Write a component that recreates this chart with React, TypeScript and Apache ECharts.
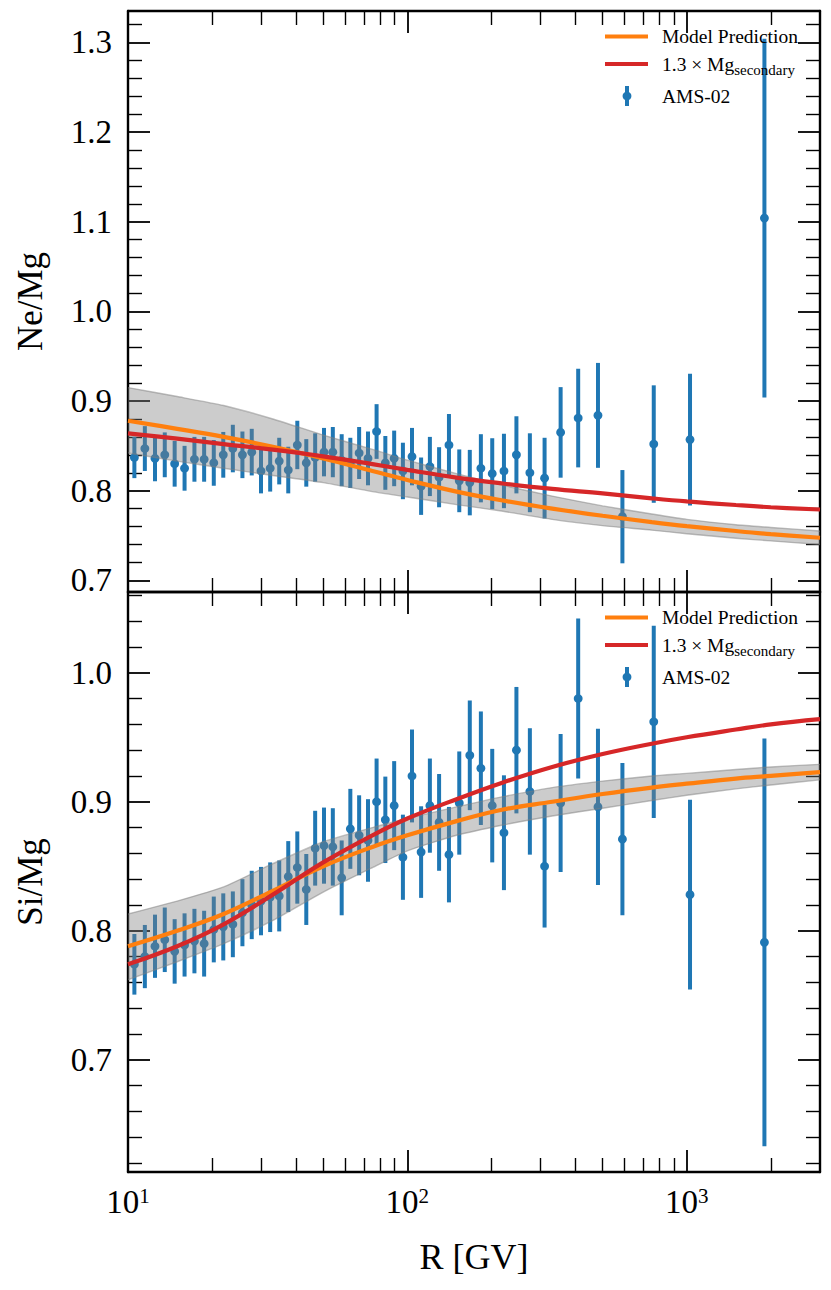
import React, { useEffect, useRef } from 'react';
import * as echarts from 'echarts';

const FONT = 'Liberation Serif';
const BLUE = '#1f77b4';
const ORANGE = '#ff7f0e';
const RED = '#d62728';

// AMS-02 rigidity bins (GV)
const rigidity = [10.54, 11.49, 12.49, 13.54, 14.69, 15.94, 17.29, 18.73, 20.28, 21.93, 23.73, 25.68, 27.73, 29.93, 32.28, 34.78, 37.47, 40.37, 43.47, 46.77, 50.3, 54.1, 58.2, 62.5, 67.2, 72.3, 77.6, 83.4, 89.7, 96.4, 103.9, 112.0, 120.4, 129.9, 140.9, 153.4, 167.3, 183.3, 201.3, 221.7, 245.7, 274.5, 309.9, 353.7, 408.8, 481.2, 588.6, 762.1, 1027.6, 1897.4];

const neMg = [0.837, 0.847, 0.836, 0.840, 0.830, 0.825, 0.835, 0.835, 0.831, 0.840, 0.847, 0.840, 0.843, 0.822, 0.825, 0.833, 0.823, 0.851, 0.831, 0.837, 0.843, 0.843, 0.834, 0.831, 0.842, 0.836, 0.866, 0.831, 0.836, 0.822, 0.838, 0.805, 0.827, 0.815, 0.851, 0.811, 0.809, 0.825, 0.819, 0.822, 0.840, 0.820, 0.814, 0.865, 0.881, 0.884, 0.771, 0.852, 0.857, 1.104];
const neMgErr = [0.023, 0.025, 0.0255, 0.025, 0.0255, 0.025, 0.025, 0.025, 0.0255, 0.0255, 0.0265, 0.026, 0.026, 0.025, 0.026, 0.026, 0.026, 0.027, 0.0265, 0.027, 0.027, 0.028, 0.029, 0.028, 0.029, 0.030, 0.0305, 0.030, 0.031, 0.0315, 0.032, 0.032, 0.033, 0.0335, 0.0345, 0.035, 0.0365, 0.038, 0.0395, 0.0415, 0.043, 0.044, 0.045, 0.0505, 0.055, 0.0585, 0.052, 0.0655, 0.0735, 0.200];

const siMg = [0.774, 0.780, 0.788, 0.793, 0.784, 0.789, 0.792, 0.790, 0.801, 0.803, 0.805, 0.814, 0.820, 0.823, 0.826, 0.827, 0.842, 0.849, 0.832, 0.864, 0.866, 0.865, 0.841, 0.879, 0.874, 0.870, 0.900, 0.886, 0.897, 0.857, 0.920, 0.861, 0.897, 0.884, 0.859, 0.899, 0.936, 0.926, 0.897, 0.876, 0.940, 0.908, 0.850, 0.899, 0.980, 0.896, 0.871, 0.962, 0.828, 0.791];
const siMgErr = [0.0235, 0.0245, 0.0245, 0.025, 0.025, 0.0245, 0.025, 0.0255, 0.0255, 0.026, 0.0255, 0.026, 0.0265, 0.0265, 0.027, 0.0275, 0.0275, 0.028, 0.0275, 0.029, 0.0295, 0.030, 0.029, 0.031, 0.031, 0.032, 0.0335, 0.0335, 0.0345, 0.033, 0.036, 0.0355, 0.0365, 0.0375, 0.037, 0.040, 0.0425, 0.044, 0.044, 0.0445, 0.049, 0.049, 0.0475, 0.0535, 0.062, 0.0605, 0.059, 0.0745, 0.0735, 0.158];

// model curves
const curveR = [10, 15, 22, 33, 50, 75, 100, 150, 220, 330, 500, 750, 1000, 1500, 2000, 3000];
const neModel = [0.878, 0.869, 0.860, 0.849, 0.836, 0.822, 0.812, 0.799, 0.789, 0.780, 0.772, 0.765, 0.7605, 0.755, 0.7515, 0.7475];
const neSecondary = [0.864, 0.858, 0.852, 0.8457, 0.8383, 0.8297, 0.8232, 0.8145, 0.808, 0.802, 0.797, 0.7915, 0.788, 0.784, 0.7815, 0.779];
const neBandLow = [0.842, 0.833, 0.825, 0.817, 0.809, 0.799, 0.793, 0.7845, 0.777, 0.768, 0.761, 0.756, 0.752, 0.747, 0.744, 0.740];
const neBandHigh = [0.915, 0.905, 0.895, 0.880, 0.862, 0.846, 0.834, 0.819, 0.806, 0.794, 0.783, 0.774, 0.768, 0.762, 0.759, 0.755];

const siModel = [0.788, 0.800, 0.813, 0.831, 0.850, 0.865, 0.874, 0.885, 0.894, 0.900, 0.906, 0.911, 0.914, 0.918, 0.920, 0.923];
const siSecondary = [0.774, 0.788, 0.805, 0.828, 0.853, 0.874, 0.887, 0.902, 0.915, 0.927, 0.937, 0.945, 0.950, 0.956, 0.960, 0.964];
const siBandLow = [0.762, 0.776, 0.790, 0.808, 0.830, 0.849, 0.862, 0.874, 0.882, 0.889, 0.895, 0.901, 0.905, 0.910, 0.913, 0.917];
const siBandHigh = [0.813, 0.823, 0.834, 0.852, 0.869, 0.880, 0.887, 0.896, 0.904, 0.911, 0.916, 0.920, 0.922, 0.925, 0.927, 0.929];

const xLimits = [10, 3000];
const neLimits = [0.687, 1.335];
const siLimits = [0.613, 1.0626];

const errorBarItem = (params: any, api: any) => {
  const x = api.value(0);
  const y = api.value(1);
  const e = api.value(2);
  const c = api.coord([x, y]);
  const hi = api.coord([x, y + e]);
  const lo = api.coord([x, y - e]);
  return {
    type: 'group',
    children: [
      { type: 'line', z2: 1, shape: { x1: c[0], y1: hi[1], x2: c[0], y2: lo[1] }, style: { stroke: BLUE, lineWidth: 4 } },
      { type: 'circle', z2: 1, shape: { cx: c[0], cy: c[1], r: 4.4 }, style: { fill: BLUE } },
    ],
  };
};

// band between lower and upper model curves, drawn once through the axis scales
const bandItem = (lo: number[], hi: number[]) => (params: any, api: any) => {
  if (params.dataIndex !== 0) return null;
  const lower = curveR.map((r, i) => api.coord([r, lo[i]]));
  const upper = curveR.map((r, i) => api.coord([r, hi[i]]));
  const poly = lower.concat(upper.slice().reverse());
  return {
    type: 'group',
    children: [
      { type: 'polygon', z2: 5, shape: { points: poly }, style: { fill: 'rgba(128,128,128,0.4)', stroke: 'none' } },
      { type: 'polyline', z2: 6, shape: { points: lower, smooth: 0.2 }, style: { stroke: 'rgba(128,128,128,0.5)', lineWidth: 1.4, fill: 'none' } },
      { type: 'polyline', z2: 6, shape: { points: upper, smooth: 0.2 }, style: { stroke: 'rgba(128,128,128,0.5)', lineWidth: 1.4, fill: 'none' } },
    ],
  };
};

const axisLine = { show: true, onZero: false, lineStyle: { color: '#000', width: 2.4 } };
const axisTick = { show: true, inside: true, length: 22, lineStyle: { color: '#000', width: 1.8 } };
const minorTickStyle = { show: true, length: 14, lineStyle: { color: '#000', width: 1.4 } };

const xAxis = (gridIndex: number, position: string, labels: boolean) => ({
  type: 'log',
  logBase: 10,
  gridIndex,
  position,
  min: xLimits[0],
  max: xLimits[1],
  axisLine,
  axisTick,
  minorTick: { ...minorTickStyle, splitNumber: 9 },
  splitLine: { show: false },
  minorSplitLine: { show: false },
  ...(labels
    ? {
        name: 'R [GV]',
        nameLocation: 'middle',
        nameGap: 67,
        nameTextStyle: { fontFamily: FONT, fontSize: 36, color: '#000' },
      }
    : {}),
  axisLabel: labels
    ? {
        show: true,
        margin: 13,
        formatter: (v: number) => {
          const e = Math.round(Math.log10(v));
          if (Math.abs(Math.pow(10, e) - v) > 1e-6 * v) return '';
          return '{b|10}{s|' + e + '}';
        },
        rich: {
          b: { fontFamily: FONT, fontSize: 33, color: '#000' },
          s: { fontFamily: FONT, fontSize: 21, color: '#000', verticalAlign: 'top' },
        },
      }
    : { show: false },
});

const yAxis = (gridIndex: number, position: string, lim: number[], name: string | null) => ({
  type: 'value',
  gridIndex,
  position,
  min: lim[0],
  max: lim[1],
  splitNumber: 5,
  axisLine,
  axisTick,
  minorTick: { ...minorTickStyle, splitNumber: 5 },
  splitLine: { show: false },
  minorSplitLine: { show: false },
  ...(name
    ? {
        name,
        nameLocation: 'middle',
        nameGap: 80,
        nameTextStyle: { fontFamily: FONT, fontSize: 35, color: '#000' },
      }
    : {}),
  axisLabel: name
    ? {
        show: true,
        margin: 16,
        fontFamily: FONT,
        fontSize: 33,
        color: '#000',
        formatter: (v: number) => {
          const t = Math.round(v * 10);
          return Math.abs(v * 10 - t) < 1e-6 ? (t / 10).toFixed(1) : '';
        },
      }
    : { show: false },
});

const panelSeries = (
  idx: number,
  vals: number[],
  errs: number[],
  model: number[],
  sec: number[],
  lo: number[],
  hi: number[]
) => [
  {
    type: 'custom',
    name: 'AMS-02',
    xAxisIndex: idx * 2,
    yAxisIndex: idx * 2,
    renderItem: errorBarItem,
    encode: { x: 0, y: 1 },
    data: rigidity.map((r, i) => [r, vals[i], errs[i]]),
    z: 2,
    silent: true,
  },
  {
    type: 'custom',
    name: 'band',
    xAxisIndex: idx * 2,
    yAxisIndex: idx * 2,
    renderItem: bandItem(lo, hi),
    encode: { x: 0, y: [1, 2] },
    data: curveR.map((r, i) => [r, lo[i], hi[i]]),
    clip: true,
    z: 3,
    silent: true,
  },
  {
    type: 'line',
    name: 'Model Prediction',
    xAxisIndex: idx * 2,
    yAxisIndex: idx * 2,
    data: curveR.map((r, i) => [r, model[i]]),
    symbol: 'none',
    smooth: 0.4,
    lineStyle: { color: ORANGE, width: 4.2 },
    z: 4,
    silent: true,
  },
  {
    type: 'line',
    name: '1.3 × Mg secondary',
    xAxisIndex: idx * 2,
    yAxisIndex: idx * 2,
    data: curveR.map((r, i) => [r, sec[i]]),
    symbol: 'none',
    smooth: 0.4,
    lineStyle: { color: RED, width: 4.2 },
    z: 4,
    silent: true,
  },
];

const legendGraphics = (oy: number) => [
  { type: 'line', shape: { x1: 605, y1: oy + 25.5, x2: 648, y2: oy + 25.5 }, style: { stroke: ORANGE, lineWidth: 4 }, z: 10 },
  {
    type: 'text',
    x: 662,
    y: oy + 25.5,
    z: 10,
    style: { text: 'Model Prediction', fontFamily: FONT, fontSize: 19.5, fill: '#000', align: 'left', verticalAlign: 'middle' },
  },
  { type: 'line', shape: { x1: 605, y1: oy + 53, x2: 648, y2: oy + 53 }, style: { stroke: RED, lineWidth: 4 }, z: 10 },
  {
    type: 'text',
    x: 662,
    y: oy + 53,
    z: 10,
    style: {
      text: '{a|1.3 × Mg}{b|secondary}',
      align: 'left',
      verticalAlign: 'middle',
      rich: {
        a: { fontFamily: FONT, fontSize: 19.5, fill: '#000', color: '#000' },
        b: { fontFamily: FONT, fontSize: 15, fill: '#000', color: '#000', padding: [12, 0, 0, 0] },
      },
    },
  },
  { type: 'line', shape: { x1: 627, y1: oy + 75, x2: 627, y2: oy + 95 }, style: { stroke: BLUE, lineWidth: 4 }, z: 10 },
  { type: 'circle', shape: { cx: 627, cy: oy + 85, r: 4.4 }, style: { fill: BLUE }, z: 10 },
  {
    type: 'text',
    x: 662,
    y: oy + 85,
    z: 10,
    style: { text: 'AMS-02', fontFamily: FONT, fontSize: 19.5, fill: '#000', align: 'left', verticalAlign: 'middle' },
  },
];

const option: any = {
  animation: false,
  backgroundColor: '#fff',
  grid: [
    { left: 128, right: 11, top: 11, height: 581, containLabel: false, outerBoundsMode: 'none' },
    { left: 128, right: 11, top: 592, height: 580, containLabel: false, outerBoundsMode: 'none' },
  ],
  xAxis: [xAxis(0, 'bottom', false), xAxis(0, 'top', false), xAxis(1, 'bottom', true), xAxis(1, 'top', false)],
  yAxis: [
    yAxis(0, 'left', neLimits, 'Ne/Mg'),
    yAxis(0, 'right', neLimits, null),
    yAxis(1, 'left', siLimits, 'Si/Mg'),
    yAxis(1, 'right', siLimits, null),
  ],
  series: [
    ...panelSeries(0, neMg, neMgErr, neModel, neSecondary, neBandLow, neBandHigh),
    ...panelSeries(1, siMg, siMgErr, siModel, siSecondary, siBandLow, siBandHigh),
  ],
  graphic: [...legendGraphics(11), ...legendGraphics(592)],
};

export default function App() {
  const ref = useRef<HTMLDivElement>(null);
  useEffect(() => {
    document.body.style.margin = '0';
    const chart = echarts.init(ref.current as HTMLDivElement, null, { renderer: 'svg' });
    chart.setOption(option);
    return () => chart.dispose();
  }, []);
  return <div ref={ref} style={{ width: 831, height: 1290 }} />;
}
